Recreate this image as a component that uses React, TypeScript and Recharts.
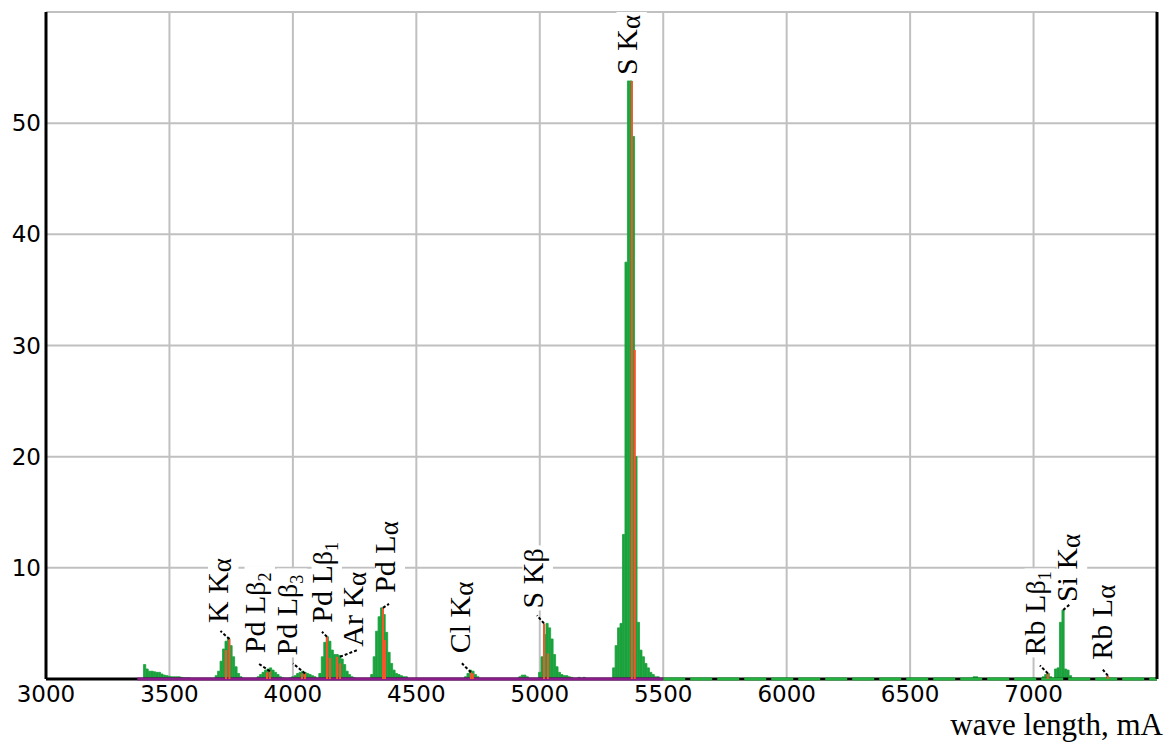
import React from 'react';
import {
  ComposedChart,
  Bar,
  Scatter,
  ErrorBar,
  XAxis,
  YAxis,
  CartesianGrid,
  ReferenceLine,
} from 'recharts';

// Spectrum counts, 10 mA bins. Each cluster lists counts from its start wavelength.
const BIN_STEP = 10;
const HUMP_3400 = [1.3, 0.9, 0.7, 0.7, 0.65, 0.6, 0.6, 0.45, 0.35, 0.3, 0.25, 0.2, 0.2, 0.2, 0.2, 0.15, 0.1, 0.1, 0.1];
const K_KA = [0.3, 0.7, 1.6, 2.7, 3.4, 3.7, 3.0, 2.0, 1.1, 0.5, 0.2];
const PD_LB2 = [0.2, 0.4, 0.6, 0.8, 0.9, 1.0, 0.8, 0.6, 0.4, 0.2, 0.1];
const PD_LB3 = [0.1, 0.2, 0.3, 0.5, 0.6, 0.7, 0.6, 0.5, 0.4, 0.3, 0.2];
const PD_LB1_AR = [0.5, 2.0, 3.3, 3.8, 3.4, 2.6, 2.2, 2.2, 2.1, 1.8, 1.3, 0.7, 0.4, 0.2, 0.1];
const PD_LA = [0.4, 2.0, 4.3, 5.6, 6.4, 5.8, 4.2, 2.4, 1.4, 0.8, 0.5, 0.4, 0.3, 0.2, 0.2];
const CL_KA = [0.2, 0.5, 0.8, 0.7, 0.4, 0.2];
const BUMP_4920 = [0.2, 0.35, 0.35, 0.2];
const S_KB = [0.6, 2.0, 4.0, 5.0, 4.6, 3.6, 2.2, 1.1, 0.6, 0.4, 0.3, 0.3, 0.2, 0.15, 0, 0, 0.15, 0, 0.15];
const S_KA = [1.0, 3.0, 4.6, 5.0, 13.0, 37.5, 53.8, 53.8, 48.8, 20.0, 5.1, 2.6, 2.0, 1.4, 1.0, 0.6, 0.4, 0.2, 0.2];
const BUMP_6760 = [0.2, 0.2];
const RB_LB1 = [0.2, 0.4, 0.5, 0.2];
const SI_KA = [0.9, 1.0, 5.1, 6.2, 0.9, 0.8, 0.3];
const RB_LA = [0.2];

const CLUSTERS: [number, number[]][] = [
  [3400, HUMP_3400],
  [3690, K_KA],
  [3860, PD_LB2],
  [3990, PD_LB3],
  [4110, PD_LB1_AR],
  [4320, PD_LA],
  [4700, CL_KA],
  [4920, BUMP_4920],
  [5000, S_KB],
  [5300, S_KA],
  [6760, BUMP_6760],
  [7040, RB_LB1],
  [7090, SI_KA],
  [7300, RB_LA],
];

// Fitted line positions (mA) and their heights
const LINE_WL = [3729, 3743, 3895, 3907, 4037, 4049, 4138, 4150, 4179, 4191, 4365, 4373, 4721, 4729, 5017, 5033, 5373, 5385, 7058, 7301];
const LINE_HEIGHT = [2.6, 3.6, 0.6, 0.7, 0.5, 0.5, 3.8, 1.9, 2.0, 1.4, 6.4, 3.5, 0.6, 0.5, 5.0, 2.3, 53.8, 29.6, 0.5, 0.3];

// Peak captions: element + line, greek letter, index
const LABEL_MAIN = ['K K', 'Pd L', 'Pd L', 'Pd L', 'Ar K', 'Pd L', 'Cl K', 'S K', 'S K', 'Rb L', 'Si K', 'Rb L'];
const LABEL_GREEK = ['α', 'β', 'β', 'β', 'α', 'α', 'α', 'β', 'α', 'β', 'α', 'α'];
const LABEL_INDEX = ['', '2', '3', '1', '', '', '', '', '', '1', '', ''];
const LABEL_WL = [3743, 3907, 4049, 4138, 4191, 4365, 4721, 5017, 5373, 7058, 7120, 7301];
const LABEL_VALUE = [3.6, 0.7, 0.5, 3.8, 2.0, 6.4, 0.6, 5.0, 53.8, 0.5, 6.2, 0.3];
// pixel nudges: text [dx, dy], leader end [lx, ly]
const LABEL_NUDGE: [number, number, number, number][] = [
  [-1, -16, -9, -8],
  [-5, -18, -12, -8],
  [-8, -18, -12, -10],
  [5, -14, -5, -5],
  [23, -10, 18, -7],
  [12, -15, 6, -4],
  [-1, -19, -9, -9],
  [-1, -15, -7, -8],
  [5, -6, 0, 0],
  [-3, -18, -8, -8],
  [14, -8, 7, -6],
  [4, -16, -5, -6],
];

const X_TICKS = [3000, 3500, 4000, 4500, 5000, 5500, 6000, 6500, 7000];
const Y_TICKS = [10, 20, 30, 40, 50];
const X_DOMAIN = [3000, 7500];
const PURPLE_SPAN = [3370, 5500];
const TAIL_SPAN = [5500, 7500];

const binRows = CLUSTERS.flatMap(([start, vals]) =>
  vals.map((v, i) => ({ wl: start + i * BIN_STEP, counts: v > 0 ? v : null }))
);
// each fitted line is drawn as an error bar reaching down to zero
const lineRows = LINE_WL.map((wl, i) => ({ wl, top: LINE_HEIGHT[i], span: [LINE_HEIGHT[i], 0] }));

const labelRows = LABEL_WL.map((wl, i) => ({
  wl,
  value: LABEL_VALUE[i],
  main: LABEL_MAIN[i],
  greek: LABEL_GREEK[i],
  index: LABEL_INDEX[i],
  nudge: LABEL_NUDGE[i],
}));

const LABEL_FS = 30;

const PeakLabel = (props: any) => {
  const { cx, cy, payload } = props;
  if (cx == null || cy == null) return <g />;
  const [dx, dy, lx, ly] = payload.nudge;
  const bx = cx + dx;
  const by = cy + dy;
  const len = payload.main.length * 0.5 * LABEL_FS + 0.5 * LABEL_FS + (payload.index ? 0.3 * LABEL_FS : 0);
  return (
    <g>
      <rect x={bx - 0.68 * LABEL_FS} y={by - len - 3} width={0.68 * LABEL_FS + 10} height={len + 5} fill="#fff" />
      {lx !== 0 || ly !== 0 ? (
        <line x1={cx} y1={cy} x2={cx + lx} y2={cy + ly} stroke="#000" strokeWidth={2} strokeDasharray="3 2" />
      ) : null}
      <text
        transform={`translate(${bx},${by}) rotate(-90)`}
        fontFamily="'Liberation Serif', 'Times New Roman', serif"
        fontSize={LABEL_FS}
        fill="#000"
      >
        {payload.main}
        <tspan fontSize={payload.greek === 'α' ? 27 : 28} dy={payload.greek === 'α' ? 3 : 0}>
          {payload.greek}
        </tspan>
        {payload.index ? (
          <tspan fontSize={18} dy={6}>
            {payload.index}
          </tspan>
        ) : null}
      </text>
    </g>
  );
};

const NoDot = () => <g />;

const tickStyle = { fontSize: 23, fill: '#000', fontFamily: "'DejaVu Sans', sans-serif" };

export default function App() {
  return (
    <div style={{ position: 'absolute', left: 0, top: 0, width: 1168, height: 744, background: '#fff' }}>
      <ComposedChart width={1168} height={744} data={binRows} margin={{ top: 12, right: 10, bottom: 35, left: 0 }}>
        <CartesianGrid xAxisId="bins" yAxisId="counts" stroke="#c0c0c0" strokeWidth={2} />
        <XAxis
          xAxisId="bins"
          type="number"
          dataKey="wl"
          domain={X_DOMAIN}
          ticks={X_TICKS}
          interval={0}
          allowDataOverflow
          tickLine={false}
          tickSize={0}
          tickMargin={7}
          height={30}
          tick={tickStyle}
          axisLine={false}
        />
        {/* second, hidden wavelength axis for the fitted lines and captions */}
        <XAxis
          xAxisId="aux"
          orientation="top"
          type="number"
          dataKey="wl"
          domain={X_DOMAIN}
          allowDataOverflow
          height={0}
          hide
        />
        <YAxis
          yAxisId="counts"
          type="number"
          domain={[0, 60]}
          ticks={Y_TICKS}
          interval={0}
          allowDataOverflow
          width={46}
          tickLine={false}
          tickSize={0}
          tickMargin={5}
          tick={tickStyle}
          axisLine={{ stroke: '#000', strokeWidth: 3 }}
        />
        <YAxis
          yAxisId="frame"
          orientation="right"
          type="number"
          domain={[0, 60]}
          width={1}
          tick={false}
          tickLine={false}
          axisLine={{ stroke: '#000', strokeWidth: 3 }}
        />
        {/* baseline: black axis, purple background fit, green tail with gaps */}
        <ReferenceLine
          xAxisId="bins"
          yAxisId="counts"
          segment={[{ x: X_DOMAIN[0], y: 0 }, { x: X_DOMAIN[1], y: 0 }]}
          stroke="#000"
          strokeWidth={3}
          ifOverflow="visible"
        />
        <ReferenceLine
          xAxisId="bins"
          yAxisId="counts"
          segment={[{ x: PURPLE_SPAN[0], y: 0 }, { x: PURPLE_SPAN[1], y: 0 }]}
          stroke="#8a1c8a"
          strokeWidth={3}
          ifOverflow="visible"
        />
        <ReferenceLine
          xAxisId="bins"
          yAxisId="counts"
          segment={[{ x: TAIL_SPAN[0], y: 0 }, { x: TAIL_SPAN[1], y: 0 }]}
          stroke="#22b03f"
          strokeWidth={3}
          strokeDasharray="22 5"
          ifOverflow="visible"
        />
        <Bar
          xAxisId="bins"
          yAxisId="counts"
          dataKey="counts"
          fill="#1ba23c"
          stroke="#1ba23c"
          strokeWidth={0.8}
          barSize={2.5}
          isAnimationActive={false}
        />
        <Scatter
          xAxisId="aux"
          yAxisId="counts"
          data={lineRows}
          dataKey="top"
          shape={NoDot}
          isAnimationActive={false}
        >
          <ErrorBar dataKey="span" direction="y" width={0} stroke="#f2562a" strokeWidth={2} isAnimationActive={false} />
        </Scatter>
        <Scatter
          xAxisId="aux"
          yAxisId="counts"
          data={labelRows}
          dataKey="value"
          shape={PeakLabel}
          isAnimationActive={false}
        />
      </ComposedChart>
      <div
        style={{
          position: 'absolute',
          right: 5,
          top: 713,
          fontFamily: "'Liberation Serif', 'Times New Roman', serif",
          fontSize: 31,
          lineHeight: '24px',
          color: '#000',
          whiteSpace: 'nowrap',
        }}
      >
        wave length, mA
      </div>
    </div>
  );
}
